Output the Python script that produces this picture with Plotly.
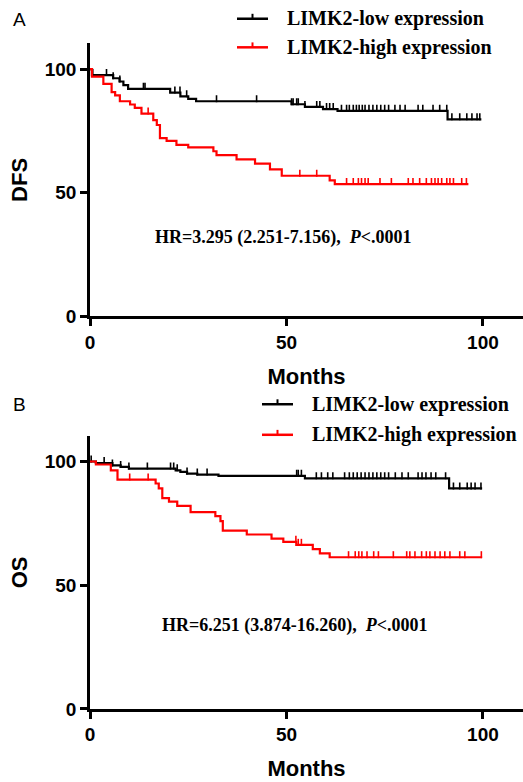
import numpy as np
import plotly.graph_objects as go

# ---------------- data ----------------
a_low_t = [0, 0.5, 5.9, 7.5, 8.5, 9.7, 20.4, 23, 25, 27, 51.3, 54.7, 59.3, 63, 91, 99.6]
a_low_s = [100, 97.6, 96.3, 95, 93.5, 92, 90.5, 89, 88, 87, 85.8, 84.7, 83.8, 83.1, 79.7, 79.7]
a_high_t = [0, 0.5, 3.4, 5.5, 6.4, 7.6, 10.2, 11.4, 13.1, 16.1, 17, 17.8, 19.5, 22, 25, 31.4, 32.2,
            37.3, 42, 45.8, 48.8, 61, 62.3, 96.3]
a_high_s = [100, 97, 94, 90.7, 89.4, 87, 85.7, 84.3, 82, 79.4, 77.4, 72.1, 71, 69.4, 68.4, 66.8, 65.2,
            63.5, 61.8, 59.5, 56.9, 55, 53.5, 53.5]
a_low_cens = [0.7, 4.2, 5.9, 7.6, 13.6, 14, 21.6, 22.9, 24.6, 32.2, 42.4, 51.3, 51.7, 52.6, 53, 54.7,
              57.7, 58.5, 60.2, 61, 61.9, 64, 65.3, 66, 67, 67.8, 68.5, 69.3, 70, 71, 72, 73, 74, 75, 76,
              77.6, 78.9, 80.2, 83.5, 84.7, 87.3, 89, 90.8, 92.1, 94.1, 95.9, 97.2, 98.5, 99.2]
a_high_cens = [14.8, 53.4, 57.7, 65.3, 67, 68.3, 69.1, 70, 70.8, 73.8, 76.7, 81, 82.2, 83.9, 85.6, 86.9,
               87.8, 88.6, 89.5, 90.8, 91.6, 92.5, 94.6, 95.8]

b_low_t = [0, 1.5, 5.7, 7.8, 9.9, 21.8, 23, 24.7, 27.3, 32.7, 54.7, 91.4, 99.8]
b_low_s = [100, 99.4, 98.4, 97.8, 97.1, 96.4, 95.8, 95.1, 94.7, 94.2, 93.2, 89.1, 89.1]
b_high_t = [0, 1.5, 5.3, 7, 16.7, 17.5, 18.4, 20.1, 22.2, 25.6, 31.9, 33.2, 33.8, 39.9, 46.2, 49.2,
            52.5, 56.7, 58.5, 61, 99.8]
b_high_s = [100, 98.8, 96.4, 92.7, 91.1, 89.1, 85.2, 83.8, 82.1, 79.5, 77.9, 75.9, 72.1, 70.5, 68.8,
            67.5, 66.3, 64.6, 62.9, 61.3, 61.3]
b_low_cens = [0.3, 3.6, 5.7, 7.8, 9.9, 14.6, 20.5, 21.3, 22.2, 24.7, 27.3, 29.8, 52.6, 53, 53.8, 57.6,
              58.9, 60.5, 61.8, 64.8, 66, 67, 68, 69, 70, 71, 72, 73, 74, 75, 76, 77.7, 79.4, 81,
              83.5, 84.5, 85.5, 86.8, 88, 90.5, 92.5, 94.1, 96, 97, 98, 99.5]
b_high_cens = [10.1, 14.8, 52.4, 53, 53.8, 65.8, 67.5, 68.4, 69.2, 70.5, 72.2, 73.4, 77.2, 80.6, 81.4,
               82.7, 84.4, 85.6, 86.5, 87.8, 89.1, 90.3, 91.6, 94.1, 95.4, 99.6]

y_ticks = [0, 50, 100]
x_ticks = [0, 50, 100]
legend_names = ["LIMK2-low expression", "LIMK2-high expression"]
hr_a = "HR=3.295 (2.251-7.156),"
hr_b = "HR=6.251 (3.874-16.260),"
p_text = "&lt;.0001"

# ---------------- geometry ----------------
W, H = 523, 782
ML = 90
X_MAX = 110.2
Y_MAX = 110.4
PX_PER_UNIT = 2.51
TICK_OFF = 2.6 / PX_PER_UNIT  # lift censor marks so they sit above the line

def ypaper(py):
    return 1 - py / H

def xpaper(px):
    return (px - ML) / (W - ML)

def surv_at(ts, ss, t):
    idx = np.searchsorted(np.array(ts), t, side="right") - 1
    return ss[max(idx, 0)]

fig = go.Figure()

def add_curve(ts, ss, cens, color, xa, ya):
    fig.add_trace(go.Scatter(x=ts, y=ss, mode="lines", line=dict(color=color, width=2.2, shape="hv"),
                             xaxis=xa, yaxis=ya, showlegend=False, hoverinfo="skip"))
    cy = [surv_at(ts, ss, t) + TICK_OFF for t in cens]
    fig.add_trace(go.Scatter(x=cens, y=cy, mode="markers",
                             marker=dict(symbol="line-ns", size=5, line=dict(color=color, width=1.6)),
                             xaxis=xa, yaxis=ya, showlegend=False, hoverinfo="skip"))

add_curve(a_low_t, a_low_s, a_low_cens, "black", "x", "y")
add_curve(a_high_t, a_high_s, a_high_cens, "red", "x", "y")
add_curve(b_low_t, b_low_s, b_low_cens, "black", "x2", "y2")
add_curve(b_high_t, b_high_s, b_high_cens, "red", "x2", "y2")

tickfont = dict(family="Liberation Sans, Arial", size=19, color="black", weight="bold")
titlefont = dict(family="Liberation Sans, Arial", size=22, color="black", weight="bold")

def xaxis_cfg(anchor):
    return dict(domain=[0, 1], range=[0, X_MAX], anchor=anchor, tickvals=x_ticks,
                ticks="outside", ticklen=7, tickwidth=2.5, tickcolor="black",
                showline=True, linecolor="black", linewidth=2.5, showgrid=False, zeroline=False,
                tickfont=tickfont, title=dict(text="Months", font=titlefont, standoff=17))

def yaxis_cfg(anchor, dom, title):
    return dict(domain=dom, range=[0, Y_MAX], anchor=anchor, tickvals=y_ticks,
                ticks="outside", ticklen=7, tickwidth=2.5, tickcolor="black",
                showline=True, linecolor="black", linewidth=2.5, showgrid=False, zeroline=False,
                tickfont=tickfont, title=dict(text=title, font=titlefont, standoff=12))

fig.update_layout(
    width=W, height=H, margin=dict(l=ML, r=0, t=0, b=0),
    paper_bgcolor="white", plot_bgcolor="white", showlegend=False,
    xaxis=xaxis_cfg("y"),
    yaxis=yaxis_cfg("x", [ypaper(321), ypaper(44)], "DFS"),
    xaxis2=xaxis_cfg("y2"),
    yaxis2=yaxis_cfg("x2", [ypaper(719), ypaper(442)], "OS"),
)

serif = dict(family="Liberation Serif, Times New Roman", size=20, color="black")
annotations = []
shapes = []

def legend(x0, x1, xt, ys):
    for name, color, yy in zip(legend_names, ["black", "red"], ys):
        shapes.append(dict(type="line", xref="paper", yref="paper", x0=xpaper(x0), x1=xpaper(x1),
                           y0=ypaper(yy), y1=ypaper(yy), line=dict(color=color, width=2.5)))
        xm = (x0 + x1) / 2
        shapes.append(dict(type="line", xref="paper", yref="paper", x0=xpaper(xm), x1=xpaper(xm),
                           y0=ypaper(yy), y1=ypaper(yy - 5), line=dict(color=color, width=2)))
        annotations.append(dict(text="<b>" + name + "</b>", xref="paper", yref="paper",
                                x=xpaper(xt), y=ypaper(yy), xanchor="left", yanchor="middle",
                                showarrow=False, font=serif))

legend(237, 268, 285, [19, 48])
legend(262, 293, 310, [410, 441])

hrfont = dict(family="Liberation Serif, Times New Roman", size=18, color="black")
annotations.append(dict(text="<b>" + hr_a + "&nbsp;&nbsp;<i>P</i>" + p_text + "</b>", xref="paper",
                        yref="paper", x=xpaper(153), y=ypaper(241), xanchor="left", yanchor="middle",
                        showarrow=False, font=hrfont))
annotations.append(dict(text="<b>" + hr_b + "&nbsp;&nbsp;<i>P</i>" + p_text + "</b>", xref="paper",
                        yref="paper", x=xpaper(160), y=ypaper(634), xanchor="left", yanchor="middle",
                        showarrow=False, font=hrfont))

pfont = dict(family="Liberation Sans, Arial", size=19, color="black")
annotations.append(dict(text="A", xref="paper", yref="paper", x=xpaper(11), y=ypaper(20),
                        xanchor="left", yanchor="middle", showarrow=False, font=pfont))
annotations.append(dict(text="B", xref="paper", yref="paper", x=xpaper(11), y=ypaper(410),
                        xanchor="left", yanchor="middle", showarrow=False, font=pfont))

fig.update_layout(annotations=annotations, shapes=shapes)
fig.write_html("out.html")
